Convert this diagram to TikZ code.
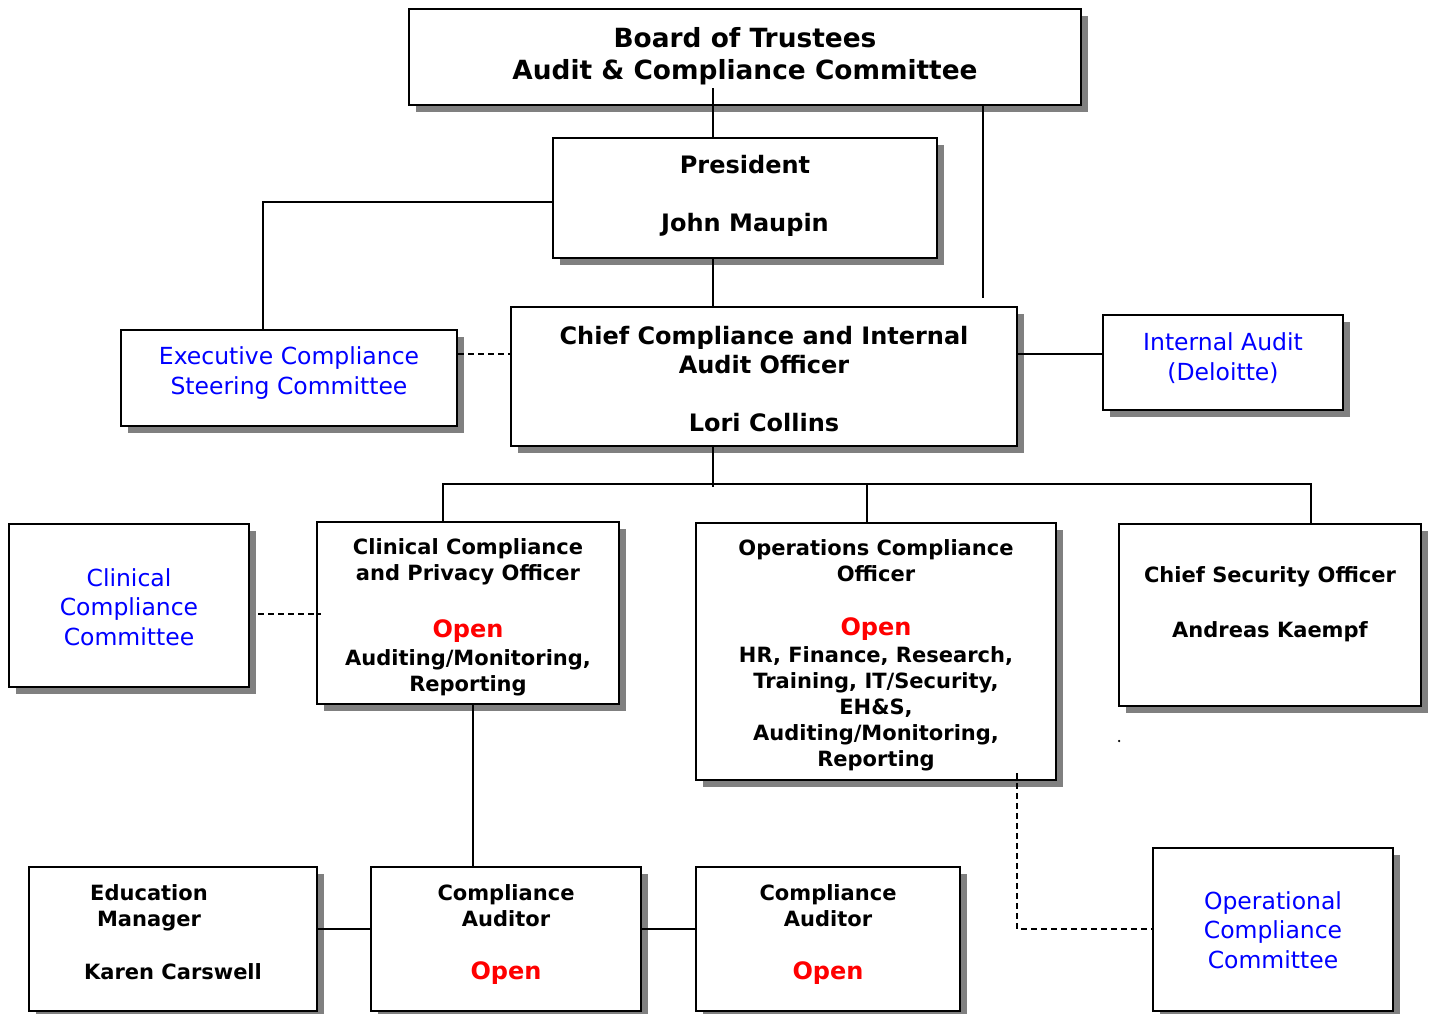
\documentclass[tikz,border=0pt]{standalone}
\usepackage{fontspec}
\setmainfont{DejaVu Sans}
\usetikzlibrary{shadows,calc}
\definecolor{shadowgray}{RGB}{128,128,128}
\definecolor{bluetxt}{RGB}{0,0,255}
\definecolor{redtxt}{RGB}{255,0,0}
\newcommand\opn[1]{{\color{redtxt}\fontsize{24}{29}\selectfont\bfseries #1}}
\tikzset{
  box/.style={rectangle, draw=black, line width=2.5pt, fill=white, inner sep=0pt,
    drop shadow={shadow xshift=7pt, shadow yshift=-7pt, fill=shadowgray, opacity=1}},
  conn/.style={line width=2pt, draw=black},
  dconn/.style={conn, dash pattern=on 6pt off 4pt},
  bigt/.style={align=center, inner sep=0pt, font=\fontsize{26.4}{32}\selectfont\bfseries},
  midt/.style={align=center, inner sep=0pt, font=\fontsize{24}{29}\selectfont\bfseries},
  smt/.style={align=center, inner sep=0pt, font=\fontsize{21}{26}\selectfont\bfseries},
  bluet/.style={align=center, inner sep=0pt, text=bluetxt, font=\fontsize{23.5}{29.5}\selectfont},
}
\begin{document}
\begin{tikzpicture}[x=1pt, y=-1pt]
\useasboundingbox (0,0) rectangle (1431,1013);
\fill[white] (0,0) rectangle (1431,1013);

% boxes
\node[box, minimum width=672pt, minimum height=96pt]  (board)    at (745,57) {};
\node[box, minimum width=384pt, minimum height=120pt] (pres)     at (745,198) {};
\node[box, minimum width=506pt, minimum height=139pt] (chief)    at (764,376.5) {};
\node[box, minimum width=336pt, minimum height=96pt]  (exec)     at (289,378) {};
\node[box, minimum width=240pt, minimum height=95pt]  (ia)       at (1223,362.5) {};
\node[box, minimum width=240pt, minimum height=163pt] (clincomm) at (129,605.5) {};
\node[box, minimum width=302pt, minimum height=182pt] (clinoff)  at (468,613) {};
\node[box, minimum width=360pt, minimum height=257pt] (ops)      at (876,651.5) {};
\node[box, minimum width=302pt, minimum height=182pt] (cso)      at (1270,615) {};
\node[box, minimum width=288pt, minimum height=144pt] (edu)      at (173,939) {};
\node[box, minimum width=270pt, minimum height=144pt] (aud1)     at (506,939) {};
\node[box, minimum width=264pt, minimum height=144pt] (aud2)     at (828,939) {};
\node[box, minimum width=240pt, minimum height=163pt] (opcomm)   at (1273,929.5) {};

% helper coordinates
\coordinate (bp) at (713,88);
\coordinate (bcx) at (983,0);
\coordinate (ex) at (263,202);
\coordinate (dy) at (0,354);
\coordinate (bus) at (713,484);
\coordinate (b1) at (443,484);
\coordinate (b3) at (867,484);
\coordinate (b4) at (1311,484);
\coordinate (cy) at (258,614);
\coordinate (ax) at (473,0);
\coordinate (ay) at (0,929);
\coordinate (od) at (1017,773);

% connectors
\draw[conn] (bp) -- (bp |- pres.north);
\draw[conn] (board.south -| bcx) -- ($(chief.north -| bcx)+(0,-8)$);
\draw[conn] (pres.south -| bp) -- (chief.north -| bp);
\draw[conn] (pres.west |- ex) -- (ex) -- (ex |- exec.north);
\draw[dconn] (exec.east |- dy) -- (chief.west |- dy);
\draw[conn] (chief.east |- dy) -- (ia.west |- dy);
\draw[conn] (chief.south -| bus) -- ($(bus)+(0,3)$);
\draw[conn] (b1 |- clinoff.north) -- (b1) -- (b4) -- (b4 |- cso.north);
\draw[conn] (b3) -- (b3 |- ops.north);
\draw[dconn] (cy) -- ($(clinoff.west |- cy)+(5,0)$);
\draw[conn] (clinoff.south -| ax) -- (aud1.north -| ax);
\draw[conn] (edu.east |- ay) -- (aud1.west |- ay);
\draw[conn] (aud1.east |- ay) -- (aud2.west |- ay);
\draw[dconn] (od) -- (od |- ay) -- (opcomm.west |- ay);
\node[circle, fill=black, inner sep=0pt, minimum size=2.5pt] (dot) at (1119,741) {};

% texts
\node[bigt] (boardt) at (745,56.5) {Board of Trustees\\Audit \& Compliance Committee};
\node[midt] (prest) at (745,195.5) {President\\[29pt]John Maupin};
\node[midt] (chieft) at (764,379) {Chief Compliance and Internal\\Audit Officer\\[29pt]Lori Collins};
\node[bluet] (exect) at (289,373) {Executive Compliance\\Steering Committee};
\node[bluet] (iat) at (1223,358) {Internal Audit\\(Deloitte)};
\node[bluet] (clincommt) at (129,607) {Clinical\\Compliance\\Committee};
\node[smt] (clinofft) at (468,617.5) {Clinical Compliance\\and Privacy Officer\\[31pt]\opn{Open}\\[2pt]Auditing/Monitoring,\\Reporting};
\node[smt] (opst) at (876,655.5) {Operations Compliance\\Officer\\[28pt]\opn{Open}\\[1pt]HR, Finance, Research,\\Training, IT/Security,\\EH\&S,\\Auditing/Monitoring,\\Reporting};
\node[smt] (csot) at (1270,604) {Chief Security Officer\\[29pt]Andreas Kaempf};
\node[smt] (edut1) at (149,907.5) {Education\\Manager};
\node[smt] (edut2) at (173,971.5) {Karen Carswell};
\node[smt] (aud1t) at (506,934.5) {Compliance\\Auditor\\[27pt]\opn{Open}};
\node[smt] (aud2t) at (828,934.5) {Compliance\\Auditor\\[27pt]\opn{Open}};
\node[bluet] (opcommt) at (1273,930) {Operational\\Compliance\\Committee};
\end{tikzpicture}
\end{document}
